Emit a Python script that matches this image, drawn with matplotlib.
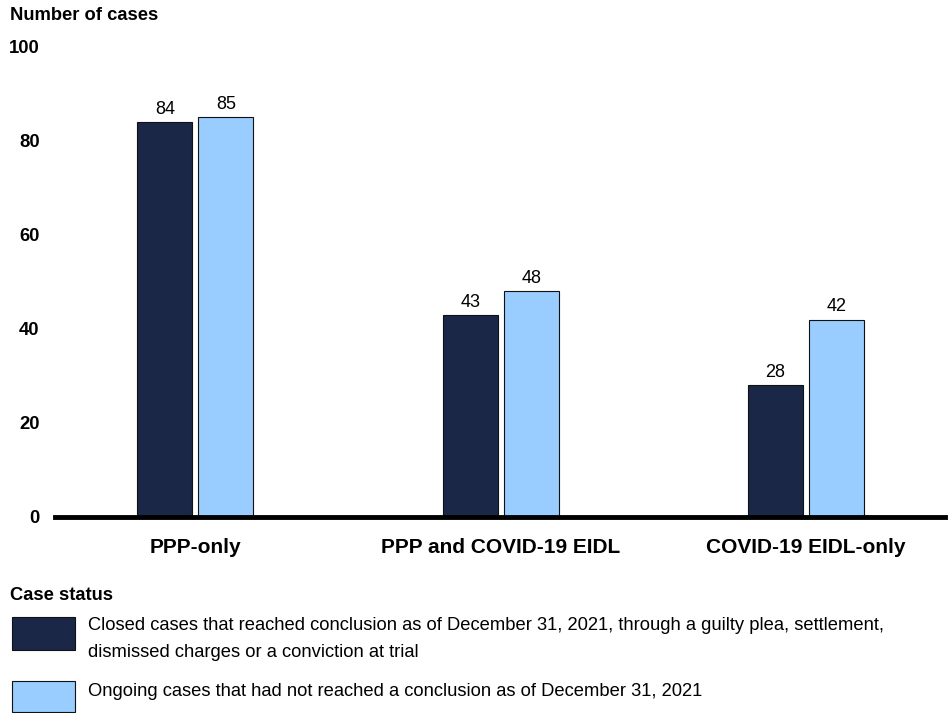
import numpy as np
import matplotlib
matplotlib.use("Agg")
import matplotlib.pyplot as plt
from matplotlib.patches import Rectangle

plt.rcParams['font.family'] = ['Liberation Sans', 'DejaVu Sans']

# Data
categories = ["PPP-only", "PPP and COVID-19 EIDL", "COVID-19 EIDL-only"]
closed = [84, 43, 28]
ongoing = [85, 48, 42]
series_names = ["Closed cases that reached conclusion as of December 31, 2021, through a guilty plea, settlement,\ndismissed charges or a conviction at trial",
                "Ongoing cases that had not reached a conclusion as of December 31, 2021"]
yticks = [0, 20, 40, 60, 80, 100]

dark = "#1a2747"
light = "#99ccff"

fig = plt.figure(figsize=(9.51, 7.13), dpi=100)
ax = fig.add_axes([0.0578, 0.2749, 0.9359, 0.6592])

x = np.arange(len(categories))
w = 0.18
b1 = ax.bar(x - 0.1, closed, w, color=dark, edgecolor="#111111", linewidth=0.8)
b2 = ax.bar(x + 0.1, ongoing, w, color=light, edgecolor="#111111", linewidth=0.8)

for bars, vals in ((b1, closed), (b2, ongoing)):
    for r, v in zip(bars, vals):
        ax.annotate(str(v), (r.get_x() + r.get_width() / 2, r.get_height()),
                    xytext=(0, 3), textcoords="offset points",
                    ha="center", va="bottom", fontsize=13)

ax.set_xlim(-0.46, 2.455)
ax.set_ylim(0, 100)
ax.set_yticks(yticks)
ax.set_yticklabels([str(t) for t in yticks], fontweight="bold", fontsize=13.3)
ax.set_xticks(x)
ax.set_xticklabels(categories, fontweight="bold", fontsize=15)
ax.tick_params(axis="y", length=0, pad=11)
ax.tick_params(axis="x", length=0, pad=15)
for s in ["top", "right", "left"]:
    ax.spines[s].set_visible(False)
ax.spines["bottom"].set_linewidth(3.5)
ax.spines["bottom"].set_color("black")

fig.text(10 / 951, 1 - 16 / 713, "Number of cases", fontweight="bold", fontsize=13.2,
         ha="left", va="center")

# Legend
fig.text(10 / 951, 1 - 595 / 713, "Case status", fontweight="bold", fontsize=13.2,
         ha="left", va="center")
fig.patches.append(Rectangle((12 / 951, 1 - 650 / 713), 63 / 951, 33 / 713,
                             transform=fig.transFigure, facecolor=dark,
                             edgecolor="#111111", linewidth=0.8))
fig.patches.append(Rectangle((12 / 951, 1 - 712 / 713), 63 / 951, 31 / 713,
                             transform=fig.transFigure, facecolor=light,
                             edgecolor="#111111", linewidth=0.8))
fig.text(88 / 951, 1 - 639 / 713, series_names[0], fontsize=13.2, ha="left",
         va="center", linespacing=1.7)
fig.text(88 / 951, 1 - 691 / 713, series_names[1], fontsize=13.2, ha="left",
         va="center")

fig.savefig("out.png", dpi=100)
